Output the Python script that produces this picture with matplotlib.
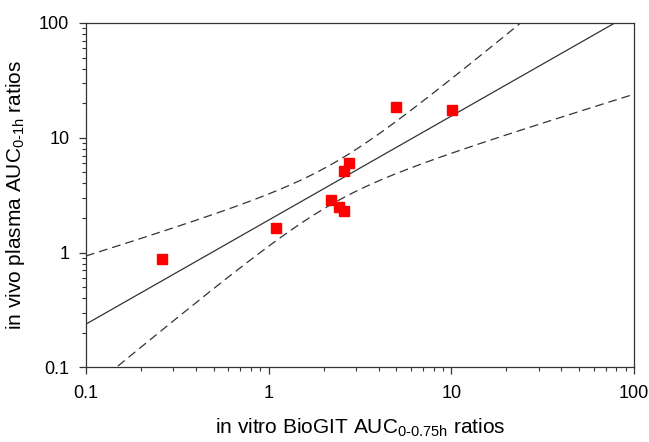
import matplotlib
matplotlib.use('Agg')
import matplotlib.pyplot as plt
import numpy as np
from matplotlib.ticker import LogLocator, NullFormatter

plt.rcParams['font.family'] = ['Liberation Sans', 'DejaVu Sans']

# data
in_vitro = [0.26, 1.09, 2.18, 2.44, 2.57, 2.57, 2.74, 5.0, 10.1]
in_vivo = [0.87, 1.65, 2.89, 2.51, 2.32, 5.16, 6.06, 18.6, 17.5]
tick_vals = [0.1, 1, 10, 100]
tick_labels = ['0.1', '1', '10', '100']

# linear regression in log-log space with 95% confidence band of the mean
lx = np.log10(in_vitro)
ly = np.log10(in_vivo)
n = len(lx)
slope, icpt = np.polyfit(lx, ly, 1)
resid = ly - (icpt + slope * lx)
s = np.sqrt(np.sum(resid ** 2) / (n - 2))
sxx = np.sum((lx - lx.mean()) ** 2)
t975 = 2.3646  # t(0.975, df=7)

xx = np.linspace(-1, 2, 300)
fit = icpt + slope * xx
half = t975 * s * np.sqrt(1 / n + (xx - lx.mean()) ** 2 / sxx)

fig = plt.figure(figsize=(6.49, 4.42), dpi=100)
ax = fig.add_axes([0.1325, 0.169, 0.8445, 0.779])

ax.plot(10 ** xx, 10 ** fit, color='#333333', lw=0.9)
ax.plot(10 ** xx, 10 ** (fit + half), color='#333333', lw=0.9, ls=(0, (7, 4)))
ax.plot(10 ** xx, 10 ** (fit - half), color='#333333', lw=0.9, ls=(0, (7, 4)))
ax.plot(in_vitro, in_vivo, 's', color='#ff0000', ms=7.5, mec='#ff0000')

ax.set_xscale('log')
ax.set_yscale('log')
ax.set_xlim(0.1, 100)
ax.set_ylim(0.1, 100)
ax.set_xticks(tick_vals)
ax.set_xticklabels(tick_labels)
ax.set_yticks(tick_vals)
ax.set_yticklabels(tick_labels)
ax.xaxis.set_minor_locator(LogLocator(base=10, subs=np.arange(2, 10)))
ax.yaxis.set_minor_locator(LogLocator(base=10, subs=np.arange(2, 10)))
ax.xaxis.set_minor_formatter(NullFormatter())
ax.yaxis.set_minor_formatter(NullFormatter())
ax.tick_params(which='major', direction='out', length=5, width=0.9, labelsize=13, color='#333333')
ax.tick_params(axis='x', which='major', pad=8)
ax.tick_params(axis='y', which='major', pad=7)
ax.tick_params(which='minor', direction='out', length=3, width=0.8, color='#333333')
for sp in ax.spines.values():
    sp.set_linewidth(0.9)
    sp.set_color('#333333')

ax.set_xlabel('in vitro BioGIT AUC$_{\\mathregular{0\u20100.75h}}$ ratios', fontsize=15, labelpad=10)
ax.set_ylabel('in vivo plasma AUC$_{\\mathregular{0\u20101h}}$ ratios', fontsize=15, labelpad=9)

fig.savefig('out.png', dpi=100)
